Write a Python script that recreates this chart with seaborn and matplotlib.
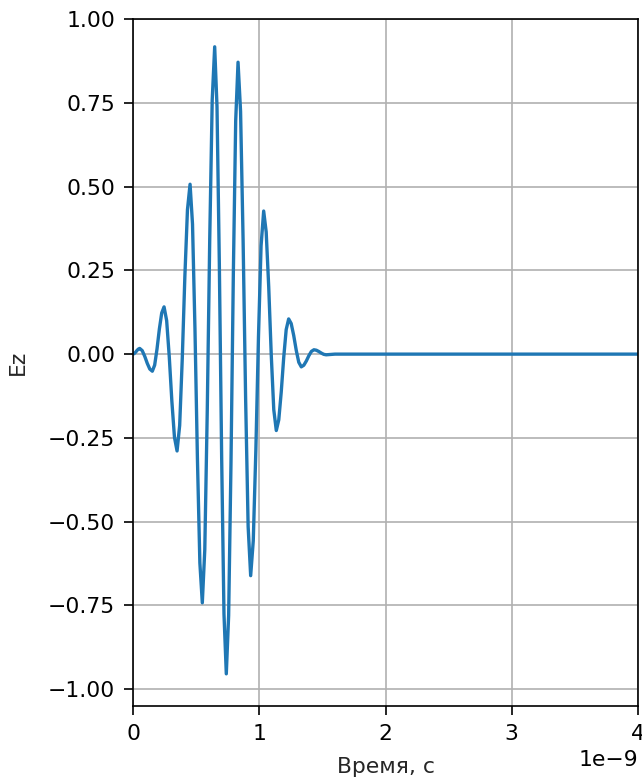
import matplotlib
matplotlib.use("Agg")
import matplotlib.pyplot as plt
import seaborn as sns
import pandas as pd

# time in units of 1e-9 s
time_ns = [
    0.0, 0.0106, 0.0212, 0.0318, 0.0424,
    0.053, 0.073, 0.093, 0.113, 0.133,
    0.153, 0.1716, 0.1902, 0.2088, 0.2274,
    0.246, 0.2666, 0.2872, 0.3078, 0.3284,
    0.349, 0.3696, 0.3902, 0.4108, 0.4314,
    0.452, 0.4714, 0.4908, 0.5102, 0.5296,
    0.549, 0.5686, 0.5882, 0.6078, 0.6274,
    0.647, 0.6654, 0.6838, 0.7022, 0.7206,
    0.739, 0.7576, 0.7762, 0.7948, 0.8134,
    0.832, 0.852, 0.872, 0.892, 0.912,
    0.932, 0.9526, 0.9732, 0.9938, 1.0144,
    1.035, 1.055, 1.075, 1.095, 1.115,
    1.135, 1.1546, 1.1742, 1.1938, 1.2134,
    1.233, 1.253, 1.273, 1.293, 1.313,
    1.333, 1.353, 1.373, 1.393, 1.413,
    1.433, 1.4524, 1.4718, 1.4912, 1.5106,
    1.53, 1.6, 4.0,
]
ez = [
    0.0, 0.002, 0.006, 0.011, 0.015,
    0.017, 0.0105, -0.0065, -0.0275, -0.0445,
    -0.051, -0.0327, 0.0153, 0.0747, 0.1227,
    0.141, 0.100, -0.0076, -0.1404, -0.248,
    -0.289, -0.213, -0.014, 0.232, 0.431,
    0.507, 0.388, 0.0755, -0.3105, -0.623,
    -0.742, -0.5835, -0.1688, 0.3438, 0.7585,
    0.917, 0.738, 0.2706, -0.3076, -0.7753,
    -0.954, -0.7797, -0.3235, 0.2405, 0.6967,
    0.871, 0.7247, 0.3417, -0.1317, -0.5147,
    -0.661, -0.5571, -0.2851, 0.0511, 0.3231,
    0.427, 0.3645, 0.2007, -0.0017, -0.1655,
    -0.228, -0.1962, -0.1129, -0.0101, 0.0732,
    0.105, 0.0913, 0.0556, 0.0114, -0.0243,
    -0.038, -0.0331, -0.0204, -0.0046, 0.0081,
    0.013, 0.0116, 0.0078, 0.0032, -0.0006,
    -0.002, 0.0, 0.0,
]
x_ticks_ns = [0, 1, 2, 3, 4]
y_ticks = [-1.0, -0.75, -0.5, -0.25, 0.0, 0.25, 0.5, 0.75, 1.0]

df = pd.DataFrame({"t": [v * 1e-9 for v in time_ns], "Ez": ez})

sns.set_style("ticks")
plt.rcParams["font.family"] = ["DejaVu Sans"]

fig = plt.figure(figsize=(6.42 / 1.5, 7.8 / 1.5), dpi=150)
ax = fig.add_axes([133 / 642, 1 - 706 / 780, (638 - 133) / 642, (706 - 19) / 780])
sns.lineplot(data=df, x="t", y="Ez", ax=ax, color="#1f77b4", linewidth=1.6,
             estimator=None, sort=False)
ax.set_xlim(0, 4e-9)
ax.set_ylim(-1.05, 1.0)
ax.set_xticks([v * 1e-9 for v in x_ticks_ns])
ax.set_yticks(y_ticks)
ax.grid(True, color="#b0b0b0", linewidth=0.8)
ax.set_xlabel("Время, с", fontsize=10.5, labelpad=6.5)
ax.set_ylabel("Ez", fontsize=10.5, labelpad=9.5)
for s in ax.spines.values():
    s.set_visible(True)
    s.set_color("black")
    s.set_linewidth(0.8)
ax.tick_params(direction="out", length=4.3, width=0.8, colors="black",
               labelsize=10.5, pad=4.3)
ax.xaxis.get_offset_text().set_fontsize(10.5)
fig.savefig("out.png", dpi=150)
